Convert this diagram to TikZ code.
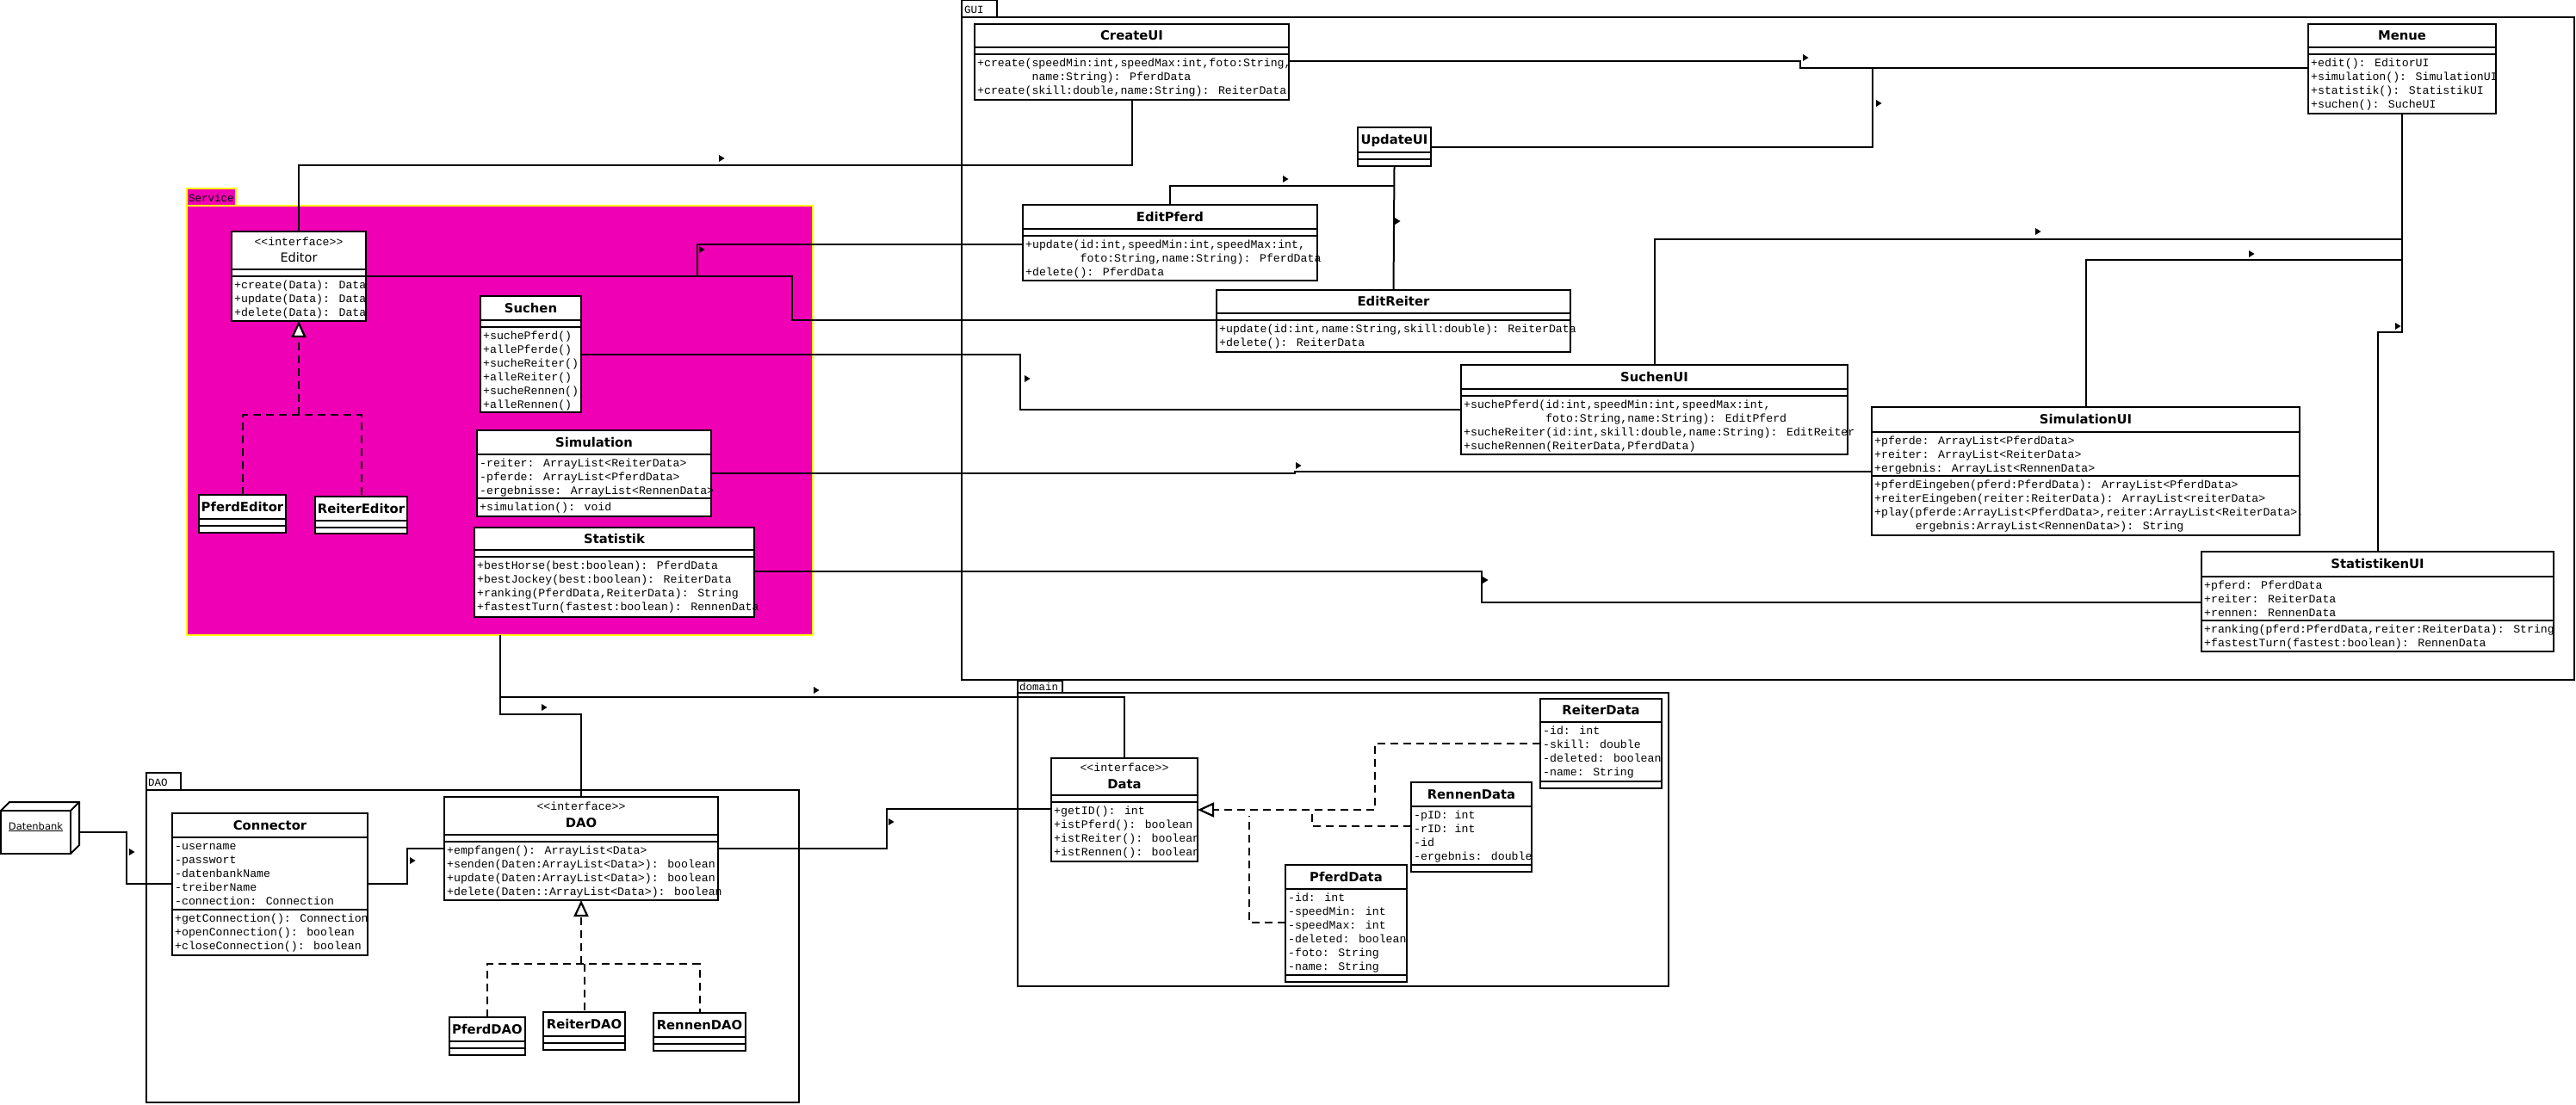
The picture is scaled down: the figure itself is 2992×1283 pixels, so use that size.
\documentclass[tikz,border=0pt]{standalone}
\usepackage{fontspec}
\setmainfont{DejaVu Sans}
\newfontfamily\monofont{Liberation Mono}
\usetikzlibrary{arrows.meta,calc}
\definecolor{svcfill}{RGB}{240,0,180}
\definecolor{svcline}{RGB}{255,255,0}
\tikzset{
 clsbox/.style={draw=black, fill=white, line width=2pt, inner sep=0pt, outer sep=0pt},
 pkg/.style={draw=black, line width=2pt, inner sep=0pt, outer sep=0pt},
 sepline/.style={line width=2pt},
 conn/.style={line width=2pt},
 real/.style={line width=2pt, dash pattern=on 9pt off 6pt},
 realtip/.style={-{Triangle[fill=white, length=19pt, width=17pt, line width=2.2pt]}},
 ttl/.style={font=\fontsize{14.8}{18}\selectfont\bfseries, anchor=base, inner sep=0pt},
 ster/.style={font=\monofont\fontsize{13.2}{16}\selectfont, anchor=base, inner sep=0pt},
 mem/.style={font=\monofont\fontsize{13.2}{16}\selectfont, anchor=base west, inner sep=0pt},
 pkglabel/.style={font=\monofont\fontsize{12.5}{15}\selectfont, anchor=base west, inner sep=0pt},
}
\newcommand\umlbox[5]{\node[clsbox, minimum width={#4-#2}, minimum height={#5-#3}] (#1) at ({(#2+#4)/2},{(#3+#5)/2}) {};}
\newcommand\hsep[2]{\draw[sepline] (#1.west |- 0,#2) -- (#1.east |- 0,#2);}
\newcommand\mems[4]{\foreach \mline [count=\i] in {#4}{\node[mem] (#1\i) at (#2,{#3+14+16*(\i-1)}) {\mline};}}
\newcommand\navmark[2]{\fill (#1-3,#2-4) -- (#1+3.5,#2) -- (#1-3,#2+4) -- cycle;}
\newcommand\ind[1]{\phantom{#1}}
\begin{document}
\begin{tikzpicture}[x=1pt,y=-1pt]
\useasboundingbox (0,0) rectangle (2992,1283);

% ---------- packages ----------
\node[pkg, minimum width=1873, minimum height=770] (GUI) at (2053.5,405) {};
\node[pkg, minimum width=41, minimum height=20] (GUItab) at (1137.5,10) {};
\node[pkglabel] (GUI-l) at (1120,15) {GUI};

\node[pkg, draw=svcline, fill=svcfill, minimum width=727, minimum height=499] (Service) at (580.5,488.5) {};
\node[pkg, draw=svcline, fill=svcfill, minimum width=57, minimum height=20] (Servicetab) at (245.5,229) {};
\node[pkglabel] (Service-l) at (219,234) {Service};

\node[pkg, minimum width=758, minimum height=363] (DAOpkg) at (549,1099.5) {};
\node[pkg, minimum width=40, minimum height=20] (DAOtab) at (190,908) {};
\node[pkglabel] (DAOpkg-l) at (172,913) {DAO};

\node[pkg, minimum width=756, minimum height=341] (domain) at (1560,975.5) {};
\node[pkg, minimum width=52, minimum height=14] (domaintab) at (1208,798) {};
\node[pkglabel] (domain-l) at (1184,802.5) {domain};

% ---------- class boxes ----------
\umlbox{CreateUI}{1132}{28}{1497}{116}
\umlbox{Menue}{2681}{28}{2899}{132}
\umlbox{UpdateUI}{1577}{148}{1662}{193}
\umlbox{EditPferd}{1188}{238}{1530}{326}
\umlbox{EditReiter}{1413}{337}{1824}{409}
\umlbox{SuchenUI}{1697}{424}{2146}{528}
\umlbox{SimulationUI}{2174}{473}{2671}{622}
\umlbox{StatistikenUI}{2557}{641}{2966}{757}
\umlbox{Editor}{269}{269}{425}{373}
\umlbox{Suchen}{558}{344}{675}{479}
\umlbox{Simulation}{554}{500}{826}{600}
\umlbox{Statistik}{551}{613}{876}{717}
\umlbox{PferdEditor}{231}{575}{332}{619}
\umlbox{ReiterEditor}{366}{577}{473}{620}
\umlbox{Connector}{200}{945}{427}{1110}
\umlbox{DAO}{516}{926}{834}{1046}
\umlbox{PferdDAO}{522}{1182}{610}{1226}
\umlbox{ReiterDAO}{631}{1176}{726}{1220}
\umlbox{RennenDAO}{759}{1177}{866}{1221}
\umlbox{Data}{1221}{881}{1391}{1001}
\umlbox{ReiterData}{1789}{812}{1930}{916}
\umlbox{RennenData}{1639}{909}{1779}{1013}
\umlbox{PferdData}{1493}{1005}{1634}{1141}

% Datenbank node
\node[draw, line width=2pt, fill=white, minimum width=81, minimum height=50, inner sep=0pt, outer sep=0pt] (db) at (41.5,967) {};
\draw[line width=2pt, line join=miter] (db.north west) -- ++(10,-10) -- ++(81,0) -- ++(0,50) -- (db.south east);
\draw[line width=2pt] (db.north east) -- ++(10,-10);
\node[font=\fontsize{11.5}{14}\selectfont, anchor=base, inner sep=0pt] (db-t) at (41.5,964) {\underline{Datenbank}};

% ---------- associations ----------
\draw[conn] (Editor.north) |- (CreateUI.south |- 0,192) -- (CreateUI.south);
\draw[conn] (CreateUI.east |- 0,71) -| (2091,79) -- (Menue.west |- 0,79);
\draw[conn] (UpdateUI.east |- 0,171) -| (2175,79);
\draw[conn] (UpdateUI.south) -- (EditReiter.north);
\draw[conn] (UpdateUI.south |- 0,216) -| (EditPferd.north);
\draw[conn] (Menue.south) |- (StatistikenUI.north |- 0,386) -- (StatistikenUI.north);
\draw[conn] (Menue.south |- 0,278) -| (SuchenUI.north);
\draw[conn] (Menue.south |- 0,302) -| (SimulationUI.north);
\draw[conn] (Editor.east |- 0,321) -| (920,372) -- (EditReiter.west |- 0,372);
\draw[conn] (EditPferd.west |- 0,284) -| (810,321);
\draw[conn] (Suchen.east |- 0,412) -| (1185,476) -- (SuchenUI.west |- 0,476);
\draw[conn] (Simulation.east |- 0,550) -| (1504,548) -- (SimulationUI.west |- 0,548);
\draw[conn] (Statistik.east |- 0,664) -| (1721,700) -- (StatistikenUI.west |- 0,700);
\draw[conn] (Service.south) |- (DAO.north |- 0,830) -- (DAO.north);
\draw[conn] (Service.south) |- (Data.north |- 0,810) -- (Data.north);
\draw[conn] (DAO.east |- 0,986) -| (1030,940) -- (Data.west |- 0,940);
\draw[conn] ([xshift=10pt]db.east |- 0,967) -| (147,1027) -- (Connector.west |- 0,1027);
\draw[conn] (Connector.east |- 0,1027) -| (473,986) -- (DAO.west |- 0,986);

\navmark{838}{184}
\navmark{2097}{67}
\navmark{2182}{120}
\navmark{1623}{257}
\navmark{1493}{208}
\navmark{2785}{379}
\navmark{2367}{269}
\navmark{2615}{295}
\navmark{815}{290}
\navmark{1193}{440}
\navmark{1508}{541}
\navmark{1725}{674}
\navmark{632}{822}
\navmark{948}{802}
\navmark{1035}{955}
\navmark{153}{990}
\navmark{479}{1000}

% ---------- realizations ----------
\draw[real, realtip] (Editor.south |- 0,482) -- (Editor.south);
\draw[real] (PferdEditor.north) |- (ReiterEditor.north |- 0,482) -- (ReiterEditor.north);
\draw[real, realtip] (DAO.south |- 0,1120) -- (DAO.south);
\draw[real] (PferdDAO.north) |- (RennenDAO.north |- 0,1120) -- (RennenDAO.north);
\draw[real] (ReiterDAO.north |- 0,1120) -- (ReiterDAO.north);
\draw[real, realtip] (ReiterData.west |- 0,864) -| (1597,941) -- (Data.east |- 0,941);
\draw[real] (RennenData.west |- 0,960) -| (1524,941);
\draw[real] (PferdData.west |- 0,1072) -| (1451,948);

% ---------- separators ----------
\hsep{CreateUI}{55}\hsep{CreateUI}{63}
\hsep{Menue}{55}\hsep{Menue}{63}
\hsep{UpdateUI}{177}\hsep{UpdateUI}{185}
\hsep{EditPferd}{266}\hsep{EditPferd}{274}
\hsep{EditReiter}{364}\hsep{EditReiter}{372}
\hsep{SuchenUI}{452}\hsep{SuchenUI}{460}
\hsep{SimulationUI}{502}\hsep{SimulationUI}{553}
\hsep{StatistikenUI}{670}\hsep{StatistikenUI}{721}
\hsep{Editor}{313}\hsep{Editor}{321}
\hsep{Suchen}{372}\hsep{Suchen}{380}
\hsep{Simulation}{528}\hsep{Simulation}{579}
\hsep{Statistik}{639}\hsep{Statistik}{647}
\hsep{PferdEditor}{603}\hsep{PferdEditor}{611}
\hsep{ReiterEditor}{605}\hsep{ReiterEditor}{613}
\hsep{Connector}{973}\hsep{Connector}{1057}
\hsep{DAO}{970}\hsep{DAO}{978}
\hsep{PferdDAO}{1210}\hsep{PferdDAO}{1218}
\hsep{ReiterDAO}{1204}\hsep{ReiterDAO}{1212}
\hsep{RennenDAO}{1205}\hsep{RennenDAO}{1213}
\hsep{Data}{924}\hsep{Data}{932}
\hsep{ReiterData}{839}\hsep{ReiterData}{908}
\hsep{RennenData}{937}\hsep{RennenData}{1005}
\hsep{PferdData}{1033}\hsep{PferdData}{1133}

% ---------- titles ----------
\node[ttl] (CreateUI-t) at (1314.5,46.5) {CreateUI};
\node[ttl] (Menue-t) at (2790,46.5) {Menue};
\node[ttl] (UpdateUI-t) at (1619.5,167.5) {UpdateUI};
\node[ttl] (EditPferd-t) at (1359,257) {EditPferd};
\node[ttl] (EditReiter-t) at (1618.5,355.5) {EditReiter};
\node[ttl] (SuchenUI-t) at (1921.5,443) {SuchenUI};
\node[ttl] (SimulationUI-t) at (2422.5,492.5) {SimulationUI};
\node[ttl] (StatistikenUI-t) at (2761.5,660.5) {StatistikenUI};
\node[ster] (Editor-s) at (347,285) {<<interface>>};
\node[font=\fontsize{14.5}{18}\selectfont, anchor=base, inner sep=0pt] (Editor-t) at (347,304) {Editor};
\node[ttl] (Suchen-t) at (616.5,363) {Suchen};
\node[ttl] (Simulation-t) at (690,519) {Simulation};
\node[ttl] (Statistik-t) at (713.5,631) {Statistik};
\node[ttl] (PferdEditor-t) at (281.5,594) {PferdEditor};
\node[ttl] (ReiterEditor-t) at (419.5,596) {ReiterEditor};
\node[ttl] (Connector-t) at (313.5,964) {Connector};
\node[ster] (DAO-s) at (675,941) {<<interface>>};
\node[ttl] (DAO-t) at (675,961) {DAO};
\node[ttl] (PferdDAO-t) at (566,1201) {PferdDAO};
\node[ttl] (ReiterDAO-t) at (678.5,1195) {ReiterDAO};
\node[ttl] (RennenDAO-t) at (812.5,1196) {RennenDAO};
\node[ster] (Data-s) at (1306,896) {<<interface>>};
\node[ttl] (Data-t) at (1306,916) {Data};
\node[ttl] (ReiterData-t) at (1859.5,830.5) {ReiterData};
\node[ttl] (RennenData-t) at (1709,928) {RennenData};
\node[ttl] (PferdData-t) at (1563.5,1024) {PferdData};

% ---------- members ----------
\mems{CreateUI-m}{1135}{63}{{+create(speedMin:int,speedMax:int,foto:String,},{\ind{xxxxxxxx}name:String): PferdData},{+create(skill:double,name:String): ReiterData}}
\mems{Menue-m}{2684}{63}{{+edit(): EditorUI},{+simulation(): SimulationUI},{+statistik(): StatistikUI},{+suchen(): SucheUI}}
\mems{EditPferd-m}{1191}{274}{{+update(id:int,speedMin:int,speedMax:int,},{\ind{xxxxxxxx}foto:String,name:String): PferdData},{+delete(): PferdData}}
\mems{EditReiter-m}{1416}{372}{{+update(id:int,name:String,skill:double): ReiterData},{+delete(): ReiterData}}
\mems{SuchenUI-m}{1700}{460}{{+suchePferd(id:int,speedMin:int,speedMax:int,},{\ind{xxxxxxxxxxxx}foto:String,name:String): EditPferd},{+sucheReiter(id:int,skill:double,name:String): EditReiter},{+sucheRennen(ReiterData,PferdData)}}
\mems{SimulationUI-a}{2177}{502}{{+pferde: ArrayList<PferdData>},{+reiter: ArrayList<ReiterData>},{+ergebnis: ArrayList<RennenData>}}
\mems{SimulationUI-m}{2177}{553}{{+pferdEingeben(pferd:PferdData): ArrayList<PferdData>},{+reiterEingeben(reiter:ReiterData): ArrayList<reiterData>},{+play(pferde:ArrayList<PferdData>,reiter:ArrayList<ReiterData>,},{\ind{xxxxxx}ergebnis:ArrayList<RennenData>): String}}
\mems{StatistikenUI-a}{2560}{670}{{+pferd: PferdData},{+reiter: ReiterData},{+rennen: RennenData}}
\mems{StatistikenUI-m}{2560}{721}{{+ranking(pferd:PferdData,reiter:ReiterData): String},{+fastestTurn(fastest:boolean): RennenData}}
\mems{Editor-m}{272}{321}{{+create(Data): Data},{+update(Data): Data},{+delete(Data): Data}}
\mems{Suchen-m}{561}{380}{{+suchePferd()},{+allePferde()},{+sucheReiter()},{+alleReiter()},{+sucheRennen()},{+alleRennen()}}
\mems{Simulation-a}{557}{528}{{-reiter: ArrayList<ReiterData>},{-pferde: ArrayList<PferdData>},{-ergebnisse: ArrayList<RennenData>}}
\mems{Simulation-m}{557}{579}{{+simulation(): void}}
\mems{Statistik-m}{554}{647}{{+bestHorse(best:boolean): PferdData},{+bestJockey(best:boolean): ReiterData},{+ranking(PferdData,ReiterData): String},{+fastestTurn(fastest:boolean): RennenData}}
\mems{Connector-a}{203}{973}{{-username},{-passwort},{-datenbankName},{-treiberName},{-connection: Connection}}
\mems{Connector-m}{203}{1057}{{+getConnection(): Connection},{+openConnection(): boolean},{+closeConnection(): boolean}}
\mems{DAO-m}{519}{978}{{+empfangen(): ArrayList<Data>},{+senden(Daten:ArrayList<Data>): boolean},{+update(Daten:ArrayList<Data>): boolean},{+delete(Daten::ArrayList<Data>): boolean}}
\mems{Data-m}{1224}{932}{{+getID(): int},{+istPferd(): boolean},{+istReiter(): boolean},{+istRennen(): boolean}}
\mems{ReiterData-a}{1792}{839}{{-id: int},{-skill: double},{-deleted: boolean},{-name: String}}
\mems{RennenData-a}{1642}{937}{{-pID: int},{-rID: int},{-id},{-ergebnis: double}}
\mems{PferdData-a}{1496}{1033}{{-id: int},{-speedMin: int},{-speedMax: int},{-deleted: boolean},{-foto: String},{-name: String}}
\end{tikzpicture}
\end{document}
